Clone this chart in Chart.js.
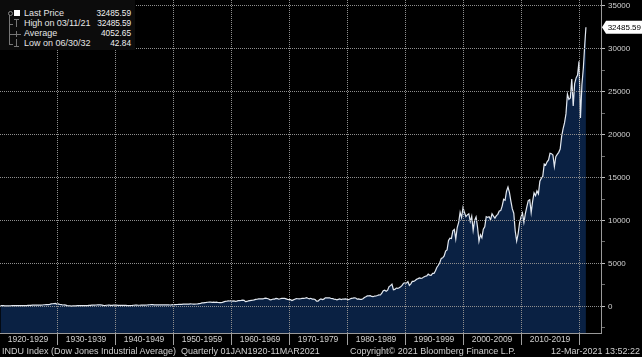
<!DOCTYPE html>
<html><head><meta charset="utf-8">
<script src="https://cdn.jsdelivr.net/npm/chart.js@4.4.1/dist/chart.umd.min.js"></script>
<style>
html,body{margin:0;padding:0;background:#000;width:642px;height:357px;overflow:hidden;}
#wrap{position:relative;width:642px;height:357px;background:#000;}
#c{position:absolute;left:0;top:0;}
.leg{position:absolute;left:0;top:0;width:135px;height:50px;background:#0c0c0c;font:9px "Liberation Sans",Arial,sans-serif;color:#e4e4e4;}
.row{position:absolute;left:24px;width:107px;height:10px;line-height:10px;white-space:nowrap;}
.row .v{position:absolute;right:0;top:0;color:#f0f0f0;font-size:8.3px;}
.g{position:absolute;background:#777;}
.foot{position:absolute;top:346px;font:9px "Liberation Sans",Arial,sans-serif;color:#cfcfcf;white-space:nowrap;line-height:11px;}
</style></head>
<body><div id="wrap">
<canvas id="c" width="642" height="357"></canvas>
<div class="leg">
  <div class="g" style="left:9px;top:14px;width:1px;height:30px;"></div>
  <div style="position:absolute;left:8px;top:11px;width:3px;height:3px;border:1px solid #888;border-radius:3px;background:#0c0c0c;"></div>
  <div style="position:absolute;left:14px;top:10px;width:6px;height:6px;background:#fff;"></div>
  <div class="g" style="left:9px;top:24px;width:4px;height:1px;"></div>
  <div class="g" style="left:14px;top:19px;width:5px;height:1px;"></div>
  <div class="g" style="left:16px;top:19px;width:1px;height:8px;"></div>
  <div class="g" style="left:9px;top:34px;width:12px;height:1px;"></div>
  <div class="g" style="left:16px;top:31px;width:1px;height:6px;"></div>
  <div class="g" style="left:9px;top:44px;width:4px;height:1px;"></div>
  <div class="g" style="left:16px;top:39px;width:1px;height:8px;"></div>
  <div class="g" style="left:14px;top:46px;width:5px;height:1px;"></div>
  <div class="row" style="top:8px;">Last Price<span class="v" id="v0"></span></div>
  <div class="row" style="top:18px;letter-spacing:-0.1px;">High on 03/11/21<span class="v" id="v1"></span></div>
  <div class="row" style="top:28px;">Average<span class="v" id="v2"></span></div>
  <div class="row" style="top:38px;">Low on 06/30/32<span class="v" id="v3"></span></div>
</div>
<div class="foot" style="left:2px;">INDU Index (Dow Jones Industrial Average)&nbsp; Quarterly 01JAN1920-11MAR2021</div>
<div class="foot" style="left:350px;">Copyright© 2021 Bloomberg Finance L.P.</div>
<div class="foot" style="right:2px;">12-Mar-2021 13:52:22</div>
</div>
<script>
// Quarterly closes (Q1..Q4 per year), DJIA
const c1920s = [104.0,90.8,82.9,71.9, 75.8,68.5,71.1,81.1, 89.1,93.0,96.6,98.7, 103.0,87.9,87.9,95.5, 92.6,98.3,104.0,120.5,
                116.0,131.0,142.0,156.7, 140.0,152.0,158.0,157.2, 161.0,166.0,197.0,202.4, 214.0,211.0,239.0,300.0, 308.0,333.0,343.0,248.5];
const c1930s = [286.1,226.3,204.9,164.6, 172.4,150.2,96.6,77.9, 73.3,42.84,71.6,59.9, 55.4,98.1,94.4,99.9, 101.0,95.7,92.6,104.0,
                100.8,118.2,131.9,144.1, 156.3,157.7,167.8,179.9, 186.4,169.3,154.6,120.9, 98.9,133.9,141.4,154.8, 131.8,130.6,152.5,150.2];
const c1940s = [147.5,121.9,132.6,131.1, 122.7,123.1,126.8,111.0, 99.5,103.3,109.1,119.4, 136.6,143.4,140.1,135.9, 138.8,148.4,146.7,152.3,
                156.1,165.3,181.1,192.9, 199.6,205.6,172.4,177.2, 177.2,177.3,177.5,181.2, 177.2,189.5,178.3,177.3, 177.1,167.4,182.5,200.1];
const c1950s = [206.0,209.1,226.4,235.4, 247.9,242.6,271.2,269.2, 269.5,274.3,270.6,291.9, 279.9,268.3,264.0,280.9, 303.5,333.5,360.5,404.4,
                409.7,451.4,466.6,488.4, 511.8,492.8,468.7,499.5, 474.8,503.3,456.3,435.7, 446.8,478.2,532.1,583.7, 601.7,643.6,632.0,679.4];
const c1960s = [616.6,640.6,580.1,615.9, 676.6,683.9,701.2,731.1, 706.9,561.3,578.9,652.1, 682.5,706.9,732.8,762.9, 813.3,831.5,875.4,874.1,
                889.1,868.0,930.6,969.3, 924.8,870.1,774.2,785.7, 866.0,860.3,926.7,905.1, 840.7,897.8,935.8,943.8, 935.5,873.2,813.1,800.4];
const c1970s = [785.6,683.5,760.7,838.9, 904.4,891.1,887.2,890.2, 940.7,929.0,953.3,1020.0, 951.0,891.7,947.1,850.9, 846.7,802.4,607.9,616.2,
                768.2,879.0,793.9,852.4, 999.5,1002.8,990.2,1004.7, 919.1,916.3,847.1,831.2, 757.4,819.0,865.8,805.0, 862.2,842.0,878.6,838.7];
const c1980s = [785.8,867.9,932.4,964.0, 1003.9,976.9,850.0,875.0, 822.8,811.9,896.3,1046.5, 1130.0,1222.0,1233.1,1258.6, 1164.9,1132.4,1206.7,1211.6,
                1266.8,1335.5,1328.6,1546.7, 1818.6,1892.7,1767.6,1896.0, 2304.7,2418.5,2596.3,1938.8, 1988.1,2141.7,2112.9,2168.6, 2293.6,2440.1,2692.8,2753.2];
const c1990s = [2707.2,2880.7,2452.7,2633.7, 2913.9,2906.8,3016.8,3168.8, 3235.5,3318.5,3271.7,3301.1, 3435.1,3516.1,3555.1,3754.1, 3636.0,3625.0,3843.2,3834.4,
                4157.7,4556.1,4789.1,5117.1, 5587.1,5654.6,5882.2,6448.3, 6583.5,7672.8,7945.3,7908.3, 8799.8,8952.0,7842.6,9181.4, 9786.2,10970.8,10337.0,11497.1];
const c2000s = [10921.9,10447.9,10650.9,10786.9, 9878.8,10502.4,8847.6,10021.5, 10403.9,9243.3,7591.9,8341.6, 7992.1,8985.4,9275.1,10453.9, 10357.7,10435.5,10080.3,10783.0,
                10503.8,10275.0,10568.7,10717.5, 11109.3,11150.2,11679.1,12463.2, 12354.4,13408.6,13895.6,13264.8, 12262.9,11350.0,10850.7,8776.4, 7608.9,8447.0,9712.3,10428.1];
const c2010s = [10856.6,9774.0,10788.1,11577.5, 12319.7,12414.3,10913.4,12217.6, 13212.0,12880.1,13437.1,13104.1, 14578.5,14909.6,15129.7,16576.7, 16457.7,16826.6,17042.9,17823.1,
                17776.1,17619.5,16284.7,17425.0, 17685.1,17930.0,18308.2,19762.6, 20663.2,21349.6,22405.1,24719.2, 24103.1,24271.4,26458.3,23327.5, 25928.7,26600.0,26916.8,28538.4];
const c2020s = [21917.2,25812.9,27781.7,30606.5];
const lastDate = 2021 + 70/365;   // 11 Mar 2021
const lastPrice = 32485.59;
const highPrice = 32485.59;
const averagePrice = 4052.65;
const lowPrice = 42.84;
const decadeLabels = ['1920-1929','1930-1939','1940-1949','1950-1959','1960-1969','1970-1979','1980-1989','1990-1999','2000-2009','2010-2019'];
const decadeStarts = [1920,1930,1940,1950,1960,1970,1980,1990,2000,2010,2020];
const yTickValues = [-2500,0,2500,5000,7500,10000,12500,15000,17500,20000,22500,25000,27500,30000,32500,35000];

document.getElementById('v0').textContent = lastPrice.toFixed(2);
document.getElementById('v1').textContent = highPrice.toFixed(2);
document.getElementById('v2').textContent = averagePrice.toFixed(2);
document.getElementById('v3').textContent = lowPrice.toFixed(2);

const quarterly = [].concat(c1920s,c1930s,c1940s,c1950s,c1960s,c1970s,c1980s,c1990s,c2000s,c2010s,c2020s);
const points = quarterly.map((v,i)=>({x: 1920 + (i+1)/4, y: v}));
points.push({x:lastDate, y:lastPrice});

const xTicks = [];
decadeStarts.forEach((d,i)=>{ xTicks.push({value:d}); if (i < decadeLabels.length) xTicks.push({value:d+5}); });

const priceTag = {
  id:'priceTag',
  afterDraw(chart){
    const ctx = chart.ctx, y = chart.scales.y.getPixelForValue(lastPrice);
    const x0 = chart.chartArea.right + 1;
    ctx.save();
    ctx.fillStyle = '#ffffff';
    ctx.beginPath();
    ctx.moveTo(x0, y); ctx.lineTo(x0+4, y-6.5); ctx.lineTo(642, y-6.5); ctx.lineTo(642, y+6.5); ctx.lineTo(x0+4, y+6.5);
    ctx.closePath(); ctx.fill();
    ctx.fillStyle = '#000';
    ctx.font = '8px "Liberation Sans", Arial, sans-serif';
    ctx.textBaseline = 'middle'; ctx.textAlign = 'right';
    ctx.fillText(lastPrice.toFixed(2), 641, y+0.5);
    ctx.restore();
  }
};

const gridCol = '#8e8e8e';
const isMajorX = c => !!(c && c.tick && Math.round(c.tick.value) % 10 === 0);
const isMajorY = c => !!(c && c.tick && Math.round(c.tick.value) % 5000 === 0);
new Chart(document.getElementById('c'), {
  type:'line',
  data:{ datasets:[{ data: points, borderColor:'#e2e8f0', borderWidth:1.2, pointRadius:0, fill:'start',
                     backgroundColor:'#0a2143', tension:0 }] },
  options:{
    responsive:false, animation:false, maintainAspectRatio:false,
    layout:{padding:0},
    plugins:{legend:{display:false}, tooltip:{enabled:false}},
    scales:{
      x:{ type:'linear', position:'bottom', min:1920.17, max:2023.79,
          afterBuildTicks: s => { s.ticks = xTicks.map(t=>({value:t.value})); },
          afterFit: s => { s.height = 24; s.paddingLeft = 0; s.paddingRight = 0; },
          ticks:{ autoSkip:false, maxRotation:0, minRotation:0, padding:-10, color:'#d0d0d0',
                  font:{family:'"Liberation Sans", Arial, sans-serif', size:8.5},
                  callback: v => { const i = decadeStarts.indexOf(v-5); return i>=0 ? decadeLabels[i] : ''; } },
          grid:{ display:true, drawOnChartArea:true, z:1,
                 color: c => isMajorX(c) ? gridCol : 'rgba(0,0,0,0)',
                 tickColor: c => isMajorX(c) ? '#a0a0a0' : 'rgba(0,0,0,0)',
                 tickLength:12, lineWidth:1 },
          border:{ display:true, color:'#9a9a9a', width:1, dash:[1,1], z:2 } },
      y:{ type:'linear', position:'right', min:-3093, max:35660,
          afterBuildTicks: s => { s.ticks = yTickValues.map(v=>({value:v})); },
          afterFit: s => { s.width = 41; s.paddingTop = 0; s.paddingBottom = 0; },
          ticks:{ padding:3, color:'#d0d0d0', font:{family:'"Liberation Sans", Arial, sans-serif', size:8},
                  callback: v => (v % 5000 === 0) ? String(v) : '' },
          grid:{ display:true, drawOnChartArea:true, z:1,
                 color: c => isMajorY(c) ? gridCol : 'rgba(0,0,0,0)',
                 tickColor: c => isMajorY(c) ? '#bdbdbd' : '#6a6a6a',
                 tickLength:4, lineWidth:1 },
          border:{ display:true, color:'#9a9a9a', width:1, dash:[1,1], z:2 } }
    }
  },
  plugins:[priceTag]
});
</script>
</body></html>
